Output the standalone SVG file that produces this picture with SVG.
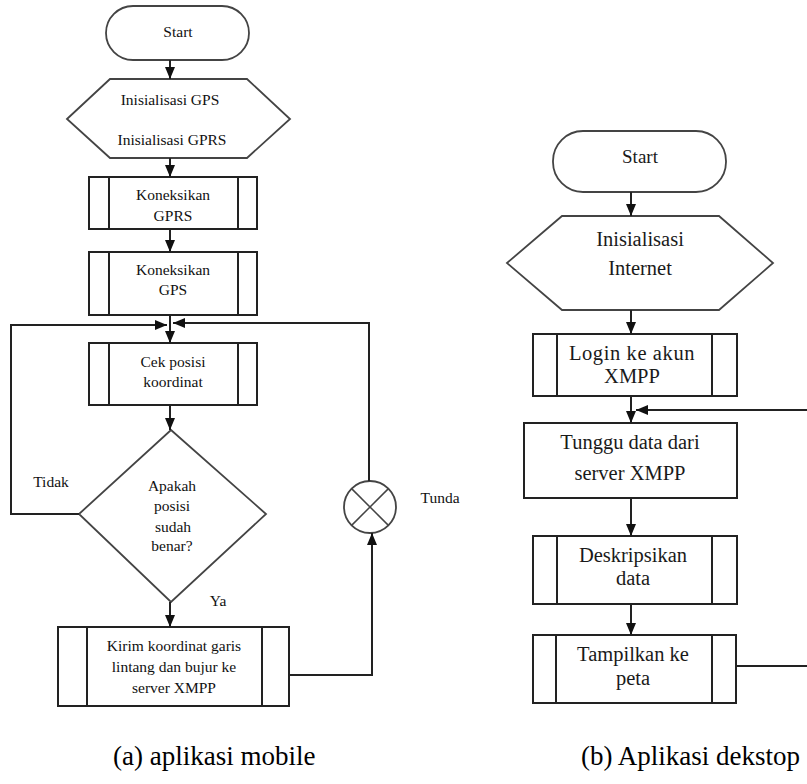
<svg xmlns="http://www.w3.org/2000/svg" width="807" height="784" viewBox="0 0 807 784">
<style>
.sh{fill:#fff;stroke:#222;stroke-width:2}
.sg{fill:#fff;stroke:#444;stroke-width:1.8}
.ln{fill:none;stroke:#222;stroke-width:2}
.t{font-family:"Liberation Serif","Times New Roman",serif;font-size:15.5px;fill:#111;text-anchor:middle}
.tr{font-family:"Liberation Serif","Times New Roman",serif;font-size:20.5px;fill:#1a1a1a;text-anchor:middle}
.cap{font-family:"Liberation Serif","Times New Roman",serif;font-size:27px;fill:#000}
</style>
<defs>
<marker id="ah" viewBox="0 0 12 10" refX="12" refY="5" markerWidth="12" markerHeight="10" markerUnits="userSpaceOnUse" orient="auto">
<path d="M0,0 L12,5 L0,10 z" fill="#111"/>
</marker>
</defs>
<rect width="807" height="784" fill="#fff"/>

<!-- Left flowchart (a) -->
<g id="a-start"><rect class="sg" x="106" y="6" width="143" height="54" rx="27"/><text class="t" x="178" y="37">Start</text></g>
<g id="a-init"><polygon class="sg" points="67,119 110,79 247,79 290,119 247,158 110,158"/><text class="t" x="170" y="105">Inisialisasi GPS</text><text class="t" x="172" y="145">Inisialisasi GPRS</text></g>
<g id="a-gprs"><rect class="sh" x="89" y="177" width="168" height="52"/><line class="ln" x1="109" y1="177" x2="109" y2="229"/><line class="ln" x1="238" y1="177" x2="238" y2="229"/><text class="t" x="173" y="200">Koneksikan</text><text class="t" x="173" y="221">GPRS</text></g>
<g id="a-gps"><rect class="sh" x="89" y="252" width="168" height="63"/><line class="ln" x1="109" y1="252" x2="109" y2="315"/><line class="ln" x1="238" y1="252" x2="238" y2="315"/><text class="t" x="173" y="275">Koneksikan</text><text class="t" x="173" y="295">GPS</text></g>
<g id="a-cek"><rect class="sh" x="89" y="343" width="168" height="62"/><line class="ln" x1="109" y1="343" x2="109" y2="405"/><line class="ln" x1="238" y1="343" x2="238" y2="405"/><text class="t" x="173" y="367">Cek  posisi</text><text class="t" x="173" y="387">koordinat</text></g>
<g id="a-dec"><polygon class="sg" points="171,430 266,514 171,602 79,514"/><text class="t" x="172" y="491">Apakah</text><text class="t" x="172" y="511">posisi</text><text class="t" x="173" y="532">sudah</text><text class="t" x="172" y="551">benar?</text></g>
<g id="a-kirim"><rect class="sh" x="58" y="627" width="231" height="79"/><line class="ln" x1="87" y1="627" x2="87" y2="706"/><line class="ln" x1="262" y1="627" x2="262" y2="706"/><text class="t" x="174" y="651">Kirim koordinat garis</text><text class="t" x="174" y="672">lintang dan bujur ke</text><text class="t" x="174" y="693">server XMPP</text></g>
<g id="a-tunda"><circle class="sg" cx="370" cy="507" r="26"/><line stroke="#444" stroke-width="1.5" x1="351.6" y1="488.6" x2="388.4" y2="525.4"/><line stroke="#444" stroke-width="1.5" x1="388.4" y1="488.6" x2="351.6" y2="525.4"/><text class="t" x="440" y="503">Tunda</text></g>
<g id="a-labels"><text class="t" x="51" y="487">Tidak</text><text class="t" x="218" y="606">Ya</text></g>

<g id="a-connectors">
<line class="ln" x1="170" y1="60" x2="170" y2="79" marker-end="url(#ah)"/>
<line class="ln" x1="170" y1="158" x2="170" y2="177" marker-end="url(#ah)"/>
<line class="ln" x1="170" y1="229" x2="170" y2="252" marker-end="url(#ah)"/>
<line class="ln" x1="170" y1="315" x2="170" y2="343" marker-end="url(#ah)"/>
<line class="ln" x1="170" y1="405" x2="170" y2="430" marker-end="url(#ah)"/>
<line class="ln" x1="170" y1="602" x2="170" y2="627" marker-end="url(#ah)"/>
<polyline class="ln" points="79,514 11,514 11,325 167,325" marker-end="url(#ah)"/>
<polyline class="ln" points="289,675 372,675 372,533" marker-end="url(#ah)"/>
<polyline class="ln" points="369,481 369,323 173,323" marker-end="url(#ah)"/>
</g>

<!-- Right flowchart (b) -->
<g id="b-start"><rect class="sg" x="553" y="131" width="173" height="61" rx="30"/><text class="tr" x="640" y="163" style="font-size:19px">Start</text></g>
<g id="b-init"><polygon class="sg" points="507,263 562,216 719,216 773,263 719,310 562,310"/><text class="tr" x="640" y="246">Inisialisasi</text><text class="tr" x="640" y="275">Internet</text></g>
<g id="b-login"><rect class="sh" x="533" y="334" width="204" height="62"/><line class="ln" x1="557" y1="334" x2="557" y2="396"/><line class="ln" x1="712" y1="334" x2="712" y2="396"/><text class="tr" x="632" y="360" letter-spacing="0.6">Login ke akun</text><text class="tr" x="632" y="383">XMPP</text></g>
<g id="b-tunggu"><rect class="sh" x="524" y="423" width="213" height="75"/><text class="tr" x="630" y="449">Tunggu data dari</text><text class="tr" x="630" y="480">server XMPP</text></g>
<g id="b-desk"><rect class="sh" x="533" y="536" width="204" height="68"/><line class="ln" x1="557" y1="536" x2="557" y2="604"/><line class="ln" x1="712" y1="536" x2="712" y2="604"/><text class="tr" x="633" y="562">Deskripsikan</text><text class="tr" x="633" y="585">data</text></g>
<g id="b-tampil"><rect class="sh" x="533" y="635" width="203" height="68"/><line class="ln" x1="556" y1="635" x2="556" y2="703"/><line class="ln" x1="712" y1="635" x2="712" y2="703"/><text class="tr" x="633" y="661">Tampilkan ke</text><text class="tr" x="633" y="685">peta</text></g>

<g id="b-connectors">
<line class="ln" x1="631" y1="192" x2="631" y2="216" marker-end="url(#ah)"/>
<line class="ln" x1="631" y1="310" x2="631" y2="334" marker-end="url(#ah)"/>
<line class="ln" x1="631" y1="396" x2="631" y2="423" marker-end="url(#ah)"/>
<line class="ln" x1="631" y1="498" x2="631" y2="536" marker-end="url(#ah)"/>
<line class="ln" x1="631" y1="604" x2="631" y2="635" marker-end="url(#ah)"/>
<line class="ln" x1="807" y1="410" x2="636" y2="410" marker-end="url(#ah)"/>
<line class="ln" x1="736" y1="666" x2="807" y2="666"/>
</g>

<g id="captions">
<text class="cap" x="113" y="765">(a) aplikasi mobile</text>
<text class="cap" x="581" y="765">(b) Aplikasi dekstop</text>
</g>
</svg>
